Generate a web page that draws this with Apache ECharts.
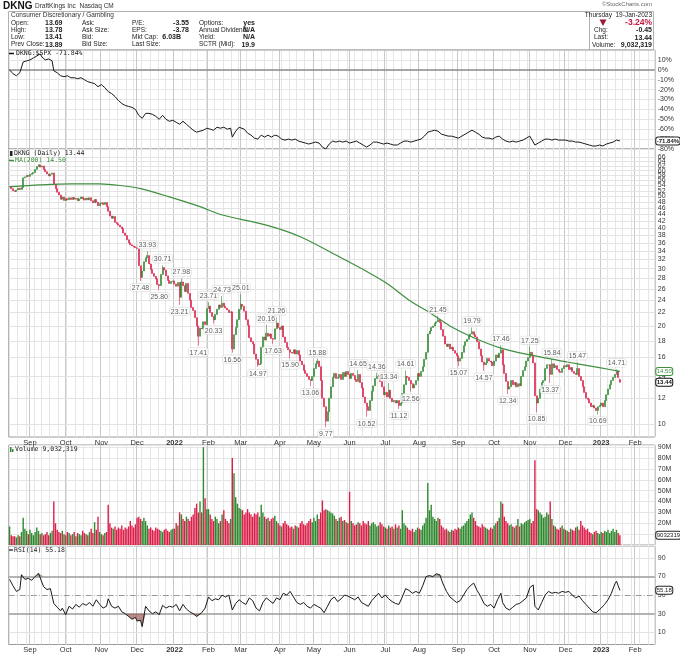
<!DOCTYPE html>
<html><head><meta charset="utf-8">
<script src="https://cdn.jsdelivr.net/npm/echarts@6/dist/echarts.min.js"></script>
<style>html,body{margin:0;padding:0;background:#fff}#c{width:680px;height:654px}</style>
</head><body><div id="c"></div>
<script>
// ---------- DATA ----------
const closes = [
 53.6,52.8,52.0,51.8,52.3,53.0,52.5,53.2,57.0,57.4,58.0,57.6,
 58.4,58.8,59.2,60.5,61.8,62.5,61.5,62.0,60.5,59.5,58.6,57.8,58.5,59.0,54.5,52.8,51.5,50.5,49.0,49.8,48.6,
 49.2,48.8,49.5,48.9,49.6,49.0,49.3,48.5,49.1,49.8,49.2,48.7,49.4,48.8,49.5,48.5,47.8,48.9,48.0,46.8,47.5,
 47.8,47.2,47.9,46.5,45.0,43.5,42.8,43.4,41.6,41.2,40.8,40.3,39.8,38.6,37.9,36.8,36.0,35.5,35.2,35.0,34.8,
 34.6,30.6,28.2,29.5,31.5,32.4,32.9,31.0,29.8,29.0,28.4,27.9,26.8,26.6,28.8,30.2,29.7,28.5,27.6,27.0,27.4,27.5,
 26.9,26.5,27.2,24.5,27.3,26.6,25.5,27.0,25.2,24.0,22.8,22.3,21.2,20.0,18.6,19.7,19.6,20.6,20.2,22.6,
 23.0,22.0,21.4,20.9,21.7,22.5,23.2,22.8,23.5,23.0,22.7,22.4,22.0,22.1,17.0,18.8,19.8,20.9,22.5,
 23.3,23.0,22.2,20.9,20.1,18.4,17.9,17.6,16.4,15.8,15.2,15.3,17.2,18.5,18.1,19.0,18.6,18.9,18.3,18.2,19.6,20.4,19.8,
 19.5,20.0,18.5,17.8,17.2,16.9,16.6,16.5,16.9,16.4,16.8,16.3,15.6,15.2,14.6,14.3,14.0,13.7,13.6,14.0,
 14.8,15.3,15.6,15.0,13.6,12.0,11.3,10.2,10.9,12.0,13.0,13.9,14.3,13.8,13.9,14.2,13.7,14.4,14.0,14.5,14.2,
 13.8,14.3,14.1,13.7,13.5,14.2,13.4,12.9,12.1,11.6,11.3,11.0,11.8,12.6,13.1,13.8,14.0,14.1,13.5,13.0,12.3,
 12.5,12.1,12.7,12.0,11.7,11.8,11.6,11.8,11.4,11.6,12.4,13.2,14.0,13.9,13.6,13.3,12.9,13.2,13.6,14.3,
 14.0,14.5,15.0,15.8,16.6,18.9,19.3,19.8,20.0,20.4,20.6,20.9,20.5,19.5,18.6,17.6,17.3,17.6,17.0,17.2,16.8,16.5,16.2,
 15.6,15.9,16.6,17.4,17.9,18.2,18.6,18.9,19.2,18.8,18.5,17.9,17.0,16.2,15.5,15.2,15.4,15.9,15.6,15.5,15.1,
 15.6,16.3,16.0,16.5,16.9,15.2,14.3,13.5,12.8,13.0,13.6,13.2,13.4,13.0,13.3,13.1,14.0,14.6,15.0,15.6,16.0,
 16.6,16.2,15.4,12.2,11.6,12.0,12.8,13.4,13.6,14.8,15.2,15.2,14.2,15.3,14.9,15.1,14.7,14.5,14.4,14.8,15.1,
 15.0,15.2,14.7,14.9,14.5,14.3,14.2,14.8,14.0,13.6,13.0,12.5,12.0,11.9,11.6,11.3,11.4,11.2,11.0,11.3,11.4,
 11.6,11.3,11.8,12.3,12.8,13.2,13.6,13.9,14.2,14.5,13.89,13.44
];
const lastOHLC = [13.69, 13.78, 13.41, 13.44];
const volumesM = [
 17,9,8,8,7,9,8,12,25,15,13,10,
 14,11,9,12,16,13,10,11,9,10,12,9,11,13,40,20,14,12,11,13,10,
 9,12,11,9,10,12,8,11,10,9,13,11,10,9,12,15,11,21,14,26,12,
 10,9,11,12,37,20,16,15,17,14,16,15,18,14,16,15,17,22,18,16,19,
 25,26,24,22,25,22,18,15,16,14,13,16,15,14,13,12,14,15,13,12,14,15,
 15,20,18,30,28,24,22,26,24,22,26,28,34,38,30,40,30,90,43,33,
 33,28,24,22,26,24,20,22,28,32,24,22,20,24,80,66,44,38,34,
 33,32,28,30,33,30,28,26,29,28,30,26,37,30,26,24,25,22,24,25,27,22,20,
 18,17,20,22,19,18,16,17,15,18,17,16,20,22,19,18,20,22,24,21,
 25,22,28,24,30,41,32,33,32,31,30,29,27,24,22,25,26,22,23,21,20,
 49,22,20,18,19,21,20,18,22,20,19,22,18,20,21,19,17,18,21,19,17,
 16,15,18,16,17,15,19,16,18,15,32,20,18,16,14,13,15,12,14,16,
 15,14,18,20,25,57,32,37,26,24,22,25,24,18,16,14,15,13,12,14,13,15,14,
 16,15,17,18,20,22,24,28,30,25,22,18,17,16,19,17,16,15,14,16,15,
 18,20,22,25,40,38,26,22,20,18,19,17,16,18,24,17,20,19,21,22,23,
 24,20,22,78,33,32,30,28,25,26,30,28,40,24,18,17,15,14,16,18,15,
 14,13,12,15,14,13,16,17,14,22,18,16,14,15,12,11,10,12,13,11,10,
 12,11,13,12,14,11,13,15,12,14,11,9.032319
];
// labelled highs / lows: [trading-day index, price, 'H' | 'L']
const extremes = [
 [77,27.48,'L'],[81,33.93,'H'],[88,25.80,'L'],[90,30.71,'H'],[100,23.21,'L'],[101,27.98,'H'],
 [111,17.41,'L'],[117,23.71,'H'],[120,20.33,'L'],[125,24.73,'H'],[131,16.56,'L'],[136,25.01,'H'],
 [146,14.97,'L'],[151,20.16,'H'],[155,17.63,'L'],[157,21.26,'H'],[165,15.90,'L'],[177,13.06,'L'],
 [181,15.88,'H'],[186,9.77,'L'],[205,14.65,'H'],[210,10.52,'L'],[216,14.36,'H'],[223,13.34,'H'],
 [229,11.12,'L'],[233,14.61,'H'],[236,12.56,'L'],[252,21.45,'H'],[264,15.07,'L'],[272,19.79,'H'],
 [279,14.57,'L'],[289,17.46,'H'],[293,12.34,'L'],[306,17.25,'H'],[310,10.85,'L'],[318,13.37,'L'],
 [319,15.84,'H'],[334,15.47,'H'],[346,10.69,'L'],[357,14.71,'H']
];
const ma200Points = [
 [0,53.5],[18,54.2],[36,54.6],[53,54.6],[65,54.0],[77,52.8],[93,50.0],[112,46.5],[124,44.0],
 [151,40.8],[171,37.6],[194,32.6],[208,29.8],[222,27.0],[236,23.8],[247,22.0],[259,20.0],
 [273,18.4],[289,17.1],[306,16.3],[328,15.5],[347,14.9],[359,14.5]
];
const ratioPoints = [
 [0,0],[2,-4],[4,-6],[6,-3],[8,8],[10,9],[12,10],[14,12],[16,14],[18,16],[19,13],[21,10],[23,11],[25,9],
 [26,-1],[28,-3],[30,-6],[32,-7],[34,-6],[36,-8],[38,-8],[40,-9],[42,-8],[44,-10],[46,-12],[48,-13],
 [50,-14],[52,-17],[54,-15],[56,-18],[58,-22],[60,-24],[62,-27],[64,-31],[66,-34],[68,-36],[70,-37],
 [72,-38],[74,-40],[76,-46],[78,-49],[80,-44],[82,-44],[84,-45],[86,-47],[88,-50],[90,-46],[92,-50],
 [94,-52],[96,-51],[98,-53],[100,-55],[102,-52],[104,-55],[106,-58],[108,-61],[110,-63],[112,-62],
 [114,-61],[116,-59],[118,-60],[120,-61],[122,-58],[124,-59],[126,-58],[128,-60],[130,-59],[131,-68],
 [133,-62],[135,-58],[136,-56],[138,-60],[140,-64],[142,-66],[144,-69],[146,-70],[148,-66],[150,-68],
 [152,-66],[154,-68],[156,-66],[158,-67],[160,-70],[162,-71],[164,-70],[166,-71],[168,-70],[170,-72],
 [172,-73],[174,-74],[176,-75],[178,-74],[180,-73],[182,-74],[184,-78],[186,-80],[188,-75],[190,-72],
 [192,-73],[194,-72],[196,-73],[198,-72],[200,-74],[202,-73],[204,-72],[206,-74],[208,-76],[210,-78],
 [212,-76],[214,-73],[216,-73],[218,-74],[220,-75],[222,-74],[224,-75],[226,-76],[228,-76],[230,-74],
 [232,-72],[234,-72],[236,-73],[238,-72],[240,-71],[242,-70],[244,-67],[246,-63],[248,-62],[250,-61],
 [252,-62],[254,-65],[256,-66],[258,-67],[260,-67],[262,-68],[264,-69],[266,-67],[268,-65],[270,-63],
 [272,-61],[274,-63],[276,-65],[278,-68],[280,-69],[282,-69],[284,-70],[286,-68],[288,-67],[290,-70],
 [292,-72],[294,-73],[296,-72],[298,-73],[300,-72],[302,-71],[304,-69],[306,-67],[307,-66],[309,-76],
 [311,-74],[313,-72],[315,-70],[317,-70],[319,-71],[321,-70],[323,-71],[325,-71],[327,-71],[329,-72],
 [331,-72],[333,-73],[335,-73],[337,-74],[339,-75],[341,-76],[343,-77],[345,-77],[347,-76],[349,-77],
 [351,-75],[353,-74],[355,-73],[357,-71],[358,-71.5],[359,-71.84]
];
const rsiPoints = [
 [0,67],[2,60],[4,54],[6,56],[7,72],[9,67],[11,68],[13,66],[15,70],[17,73.5],[18,73],[20,59],[22,56],
 [24,57],[26,41],[28,37],[30,33],[31,36],[33,29],[35,38],[37,35],[39,40],[41,37],[43,41],[45,39],[47,42],
 [49,38],[51,45],[53,40],[55,36],[57,38],[58,46],[60,38],[62,36],[64,38],[66,32],[68,30],[70,27],[72,24],
 [74,26],[75,22],[76,20],[77,23],[78,16],[80,38],[82,33],[84,30],[86,32],[88,29],[90,39],[92,36],[94,38],
 [96,37],[98,40],[100,33],[102,40],[104,35],[106,32],[108,30],[110,27],[111,28],[113,31],[115,36],
 [117,48],[119,44],[121,46],[123,45],[125,50],[127,48],[129,50],[130,49],[131,34],[133,41],[135,45],
 [137,42],[139,40],[141,47],[143,44],[145,36],[147,33],[149,42],[151,47],[153,44],[155,41],[157,47],
 [159,45],[161,52],[163,50],[165,54],[167,48],[169,42],[171,40],[173,42],[175,38],[177,36],[179,40],
 [181,38],[183,36],[185,31],[187,38],[189,45],[191,48],[193,43],[195,46],[197,50],[199,49],[201,47],
 [203,45],[205,48],[207,42],[209,40],[211,38],[213,44],[215,48],[217,52],[219,47],[221,50],[223,46],
 [225,43],[227,41],[229,40],[231,48],[233,57],[235,55],[237,52],[239,54],[241,52],[243,60],[245,70],
 [247,71],[249,70],[251,73],[253,72],[255,62],[257,54],[259,48],[261,45],[263,42],[265,44],[267,50],
 [269,56],[271,60],[273,63],[275,55],[277,49],[279,41],[281,38],[283,40],[285,36],[287,45],[289,52],
 [290,42],[292,36],[294,34],[296,37],[298,40],[300,41],[302,44],[304,47],[306,58],[308,61],[309,38],
 [311,34],[313,42],[315,50],[317,54],[319,52],[321,53],[323,52],[325,54],[327,53],[329,54],[331,50],
 [333,47],[335,49],[337,44],[339,40],[341,36],[343,32],[345,31],[346,30],[348,36],[350,40],[352,45],
 [354,52],[356,62],[357,65],[358,60],[359,55.18]
];
const priceTicks = [10,12,14,16,18,20,22,24,26,28,30,32,34,36,38,40,42,44,46,48,50,52,54,56,58,60,62,64,66];
const rsiTicks = [10,30,50,70,90];
const holidays = ['2021-09-06','2021-11-25','2021-12-24','2022-01-17','2022-02-21','2022-04-15','2022-05-30',
 '2022-06-20','2022-07-04','2022-09-05','2022-11-24','2022-12-26','2023-01-02','2023-01-16'];
const monthNames = ['Jan','Feb','Mar','Apr','May','Jun','Jul','Aug','Sep','Oct','Nov','Dec'];

// ---------- BUILD ----------
function buildDates(n){
  const out=[]; const d=new Date(Date.UTC(2021,7,16));
  while(out.length<n){ const w=d.getUTCDay(); const s=d.toISOString().slice(0,10);
    if(w!==0&&w!==6&&holidays.indexOf(s)<0) out.push(s); d.setUTCDate(d.getUTCDate()+1); }
  return out;
}
const dates = buildDates(380);
const monthStart = dates.map((d,i)=> i>0 && d.slice(0,7)!==dates[i-1].slice(0,7));
const weekStart = dates.map((d,i)=> i>0 && new Date(d+'T00:00:00Z').getUTCDay() < new Date(dates[i-1]+'T00:00:00Z').getUTCDay());
const GREEN='#2f8a2f', RED='#dc1f4a';
const FONT="'Liberation Sans', Arial, sans-serif";
const MONO="'DejaVu Sans Mono', monospace";

const hi={}, lo={};
extremes.forEach(e=>{ if(e[2]==='H') hi[e[0]]=e[1]; else lo[e[0]]=e[1]; });
const candleData = closes.map((c,i)=>{
  if(i===closes.length-1){ return [lastOHLC[0], lastOHLC[3], lastOHLC[2], lastOHLC[1]]; }
  const o = i===0 ? c : closes[i-1];
  const h = Math.max(o,c, hi[i]!==undefined?hi[i]:0);
  const l = Math.min(o,c, lo[i]!==undefined?lo[i]:1e9);
  return [o,c,l,h];
});
const volData = volumesM.map((v,i)=>({value:v, itemStyle:{color: (i===0||closes[i]>=closes[i-1])?GREEN:RED}}));

function monthLabel(v){ const m=+v.slice(5,7)-1; return m===0 ? '{b|'+v.slice(0,4)+'}' : monthNames[m]; }

const grids=[
 {top:50,height:99},{top:149,height:288},{top:445,height:100},{top:546,height:99}
].map(g=>Object.assign({left:8.75,width:646,show:true,borderColor:'#9a9a9a',borderWidth:1,backgroundColor:'#fff'},g));

const xAxes=[];
for(let g=0;g<4;g++){
  xAxes.push({type:'category',gridIndex:g,data:dates,boundaryGap:true,
    axisLine:{show:false},axisTick:{show:false},
    axisLabel:{show:(g===1||g===3),interval:(i)=>monthStart[i],formatter:monthLabel,fontSize:7.5,color:'#333',
      fontFamily:FONT,margin:1.5,rich:{b:{fontWeight:'bold',fontSize:7.5,fontFamily:FONT,color:'#333'}}},
    splitLine:{show:true,interval:(i)=>weekStart[i],lineStyle:{color:'#e6e6e6',width:1}}});
}
for(let g=0;g<4;g++){
  xAxes.push({type:'category',gridIndex:g,data:dates,boundaryGap:true,
    axisLine:{show:false},axisTick:{show:false},axisLabel:{show:false},
    splitLine:{show:true,interval:(i)=>monthStart[i],lineStyle:{color:'#c8c8c8',width:1}}});
}
const axLbl={fontSize:7,color:'#333',fontFamily:FONT,margin:3};
const yAxes=[
 {type:'value',gridIndex:0,min:-80,max:20,interval:10,position:'right',
  axisLabel:Object.assign({formatter:v=>v===20?'':v+'%'},axLbl),axisLine:{show:false},axisTick:{show:false},
  splitLine:{lineStyle:{color:'#e6e6e6'}}},
 {type:'log',logBase:10,gridIndex:1,min:9.12,max:69.9,position:'right',axisLabel:{show:false},
  axisLine:{show:false},axisTick:{show:false},splitLine:{show:false}},
 {type:'value',gridIndex:2,min:0,max:92,interval:10,position:'right',
  axisLabel:Object.assign({formatter:v=>(v===0||v===10)?'':v+'M'},axLbl),axisLine:{show:false},axisTick:{show:false},
  splitLine:{lineStyle:{color:'#e6e6e6'}}},
 {type:'value',gridIndex:3,min:-3.2,max:102.9,position:'right',axisLabel:{show:false},
  axisLine:{show:false},axisTick:{show:false},splitLine:{show:false}}
];

function boxLabel(text,color,bold){
  return {show:true,position:'end',distance:1.5,formatter:text,fontSize:6,fontFamily:FONT,fontWeight:bold?'bold':'normal',
    color:color,backgroundColor:'#fff',borderColor:color,borderWidth:1,borderRadius:2,padding:[1,0.5,0,0.5]};
}
const hidden={color:'rgba(0,0,0,0)',width:0.1,type:'solid'};

const series=[
 {type:'line',xAxisIndex:0,yAxisIndex:0,data:ratioPoints,showSymbol:false,lineStyle:{color:'#1a1a1a',width:1},z:5,
  markLine:{silent:true,symbol:['none','none'],animation:false,data:[
    {yAxis:0,lineStyle:{color:'#8c8c8c',width:1.5,type:'solid'},label:{show:false}},
    {yAxis:-71.84,lineStyle:hidden,label:boxLabel('-71.84%','#222',true)}
  ]}},
 {type:'candlestick',xAxisIndex:1,yAxisIndex:1,data:candleData,barWidth:1.5,z:5,
  itemStyle:{color:GREEN,color0:RED,borderColor:GREEN,borderColor0:RED,borderWidth:0.6},
  markLine:{silent:true,symbol:['none','none'],animation:false,z:1,
    lineStyle:{color:'#e3e3e3',width:1,type:'solid'},
    data:priceTicks.map(v=>({yAxis:v,label:{show:true,position:'end',distance:3,formatter:String(v),fontSize:7,color:'#333',fontFamily:FONT}}))
     .concat([{yAxis:14.50,lineStyle:hidden,label:boxLabel('14.50','#3f8f3f',false)},
              {yAxis:13.44,lineStyle:hidden,label:boxLabel('13.44','#111',true)}])}},
 {type:'line',xAxisIndex:1,yAxisIndex:1,data:ma200Points,showSymbol:false,smooth:0.3,lineStyle:{color:'#3f8f3f',width:1.2},z:6},
 {type:'scatter',xAxisIndex:1,yAxisIndex:1,symbolSize:1,itemStyle:{color:'rgba(0,0,0,0)'},z:8,
  data:extremes.map(e=>({value:[e[0],e[1]],label:{show:true,position:e[2]==='H'?'top':'bottom',distance:2,
    formatter:e[1].toFixed(2),fontSize:7,color:'#333',fontFamily:FONT,backgroundColor:'rgba(255,255,255,0.9)',
    borderColor:'#d0d0d0',borderWidth:0.5,borderRadius:2,padding:[1,1,0,1]}}))},
 {type:'bar',xAxisIndex:2,yAxisIndex:2,data:volData,barWidth:1.4,z:5,
  markLine:{silent:true,symbol:['none','none'],animation:false,data:[
    {yAxis:9.032319,lineStyle:hidden,label:boxLabel('9032319','#222',false)}]}},
 {type:'line',xAxisIndex:3,yAxisIndex:3,data:rsiPoints.map(p=>[p[0],Math.min(p[1],30)]),showSymbol:false,
  lineStyle:{width:0},areaStyle:{origin:30,color:'#9e5b55'},z:3},
 {type:'line',xAxisIndex:3,yAxisIndex:3,data:rsiPoints.map(p=>[p[0],Math.max(p[1],70)]),showSymbol:false,
  lineStyle:{width:0},areaStyle:{origin:70,color:'#6f8a64'},z:3},
 {type:'line',xAxisIndex:3,yAxisIndex:3,data:rsiPoints,showSymbol:false,lineStyle:{color:'#1a1a1a',width:1},z:5,
  markLine:{silent:true,symbol:['none','none'],animation:false,z:1,data:[
    {yAxis:90,lineStyle:{color:'#e3e3e3',width:1,type:'solid'}},
    {yAxis:10,lineStyle:{color:'#e3e3e3',width:1,type:'solid'}},
    {yAxis:70,lineStyle:{color:'#9a9a9a',width:1.5,type:'solid'}},
    {yAxis:30,lineStyle:{color:'#9a9a9a',width:1.5,type:'solid'}},
    {yAxis:50,lineStyle:{color:'#9a9a9a',width:1,type:[6,2,1,2]}},
    {yAxis:55.18,lineStyle:hidden,label:boxLabel('55.18','#222',false)}
  ].map(d=>{ if(!d.label){ d.label={show:true,position:'end',distance:3,formatter:String(d.yAxis),fontSize:7,color:'#333',fontFamily:FONT}; } return d; })}}
];

function T(x,y,text,o){ o=o||{};
  return {type:'text',x:x,y:y,silent:true,z:50,style:{text:text,
    font:(o.bold?'bold ':'')+(o.size||7)+'px '+(o.family||FONT),fill:o.color||'#222',
    textAlign:o.align||'left',align:o.align||'left',textVerticalAlign:'middle',verticalAlign:'middle'}};
}
const graphics=[
 T(3,6,'DKNG',{bold:true,size:10,color:'#111'}),
 T(35,6.5,'DraftKings Inc  Nasdaq CM',{size:6.5,color:'#333'}),
 T(652,4,'\u00a9StockCharts.com',{size:6,color:'#666',align:'right'}),
 {type:'rect',shape:{x:8.5,y:11.5,width:645,height:38.5},style:{fill:'none',stroke:'#b0b0b0',lineWidth:1},silent:true,z:40},
 {type:'line',shape:{x1:589.5,y1:11.5,x2:589.5,y2:50},style:{stroke:'#b0b0b0',lineWidth:1},silent:true,z:40},
 T(11,15.5,'Consumer Discretionary / Gambling',{size:6.5,color:'#333'}),
 T(11,22.8,'Open:',{size:6.5}),T(11,30,'High:',{size:6.5}),T(11,37.3,'Low:',{size:6.5}),T(11,44.6,'Prev Close:',{size:6.5}),
 T(45,22.8,'13.69',{size:7,bold:true}),T(45,30,'13.78',{size:7,bold:true}),T(45,37.3,'13.41',{size:7,bold:true}),T(45,44.6,'13.89',{size:7,bold:true}),
 T(82,22.8,'Ask:',{size:6.5}),T(82,30,'Ask Size:',{size:6.5}),T(82,37.3,'Bid:',{size:6.5}),T(82,44.6,'Bid Size:',{size:6.5}),
 T(132,22.8,'P/E:',{size:6.5}),T(132,30,'EPS:',{size:6.5}),T(132,37.3,'Mkt Cap:',{size:6.5}),T(132,44.6,'Last Size:',{size:6.5}),
 T(189,22.8,'-3.55',{size:7,bold:true,align:'right'}),T(189,30,'-3.78',{size:7,bold:true,align:'right'}),T(181,37.3,'6.03B',{size:7,bold:true,align:'right'}),
 T(199,22.8,'Options:',{size:6.5}),T(199,30,'Annual Dividend:',{size:6.5}),T(199,37.3,'Yield:',{size:6.5}),T(199,44.6,'SCTR (Mid):',{size:6.5}),
 T(255,22.8,'yes',{size:7,bold:true,align:'right'}),T(255,30,'N/A',{size:7,bold:true,align:'right'}),T(255,37.3,'N/A',{size:7,bold:true,align:'right'}),T(255,44.6,'19.9',{size:7,bold:true,align:'right'}),
 T(652,14.8,'Thursday  19-Jan-2023',{size:6.5,align:'right'}),
 {type:'polygon',shape:{points:[[599.5,19.5],[606.5,19.5],[603,26]]},style:{fill:'#9c1a33'},silent:true,z:50},
 T(652,22.8,'-3.24%',{size:8.5,bold:true,color:'#c4173f',align:'right'}),
 T(594,30.2,'Chg:',{size:6.5}),T(652,30.2,'-0.45',{size:7,bold:true,align:'right'}),
 T(594,37.6,'Last:',{size:6.5}),T(652,37.6,'13.44',{size:7,bold:true,align:'right'}),
 T(592,45,'Volume:',{size:6.5}),T(652,45,'9,032,319',{size:7,bold:true,align:'right'}),
 // panel legends
 {type:'line',shape:{x1:9,y1:53.5,x2:14,y2:53.5},style:{stroke:'#111',lineWidth:1.5},silent:true,z:50},
 T(16,53.8,'DKNG:$SPX -71.84%',{size:6.5,family:MONO,color:'#222'}),
 {type:'rect',shape:{x:10,y:151,width:2.5,height:5},style:{fill:'#222'},silent:true,z:50},
 T(14,153.8,'DKNG (Daily) 13.44',{size:6.5,family:MONO,color:'#222'}),
 {type:'line',shape:{x1:9,y1:160.5,x2:14,y2:160.5},style:{stroke:'#3f8f3f',lineWidth:1.5},silent:true,z:50},
 T(15,160.8,'MA(200) 14.50',{size:6.5,family:MONO,color:'#3f8f3f'}),
 {type:'rect',shape:{x:10,y:447,width:1.5,height:5},style:{fill:GREEN},silent:true,z:50},
 {type:'rect',shape:{x:12,y:449,width:1.5,height:3},style:{fill:GREEN},silent:true,z:50},
 T(15,449.8,'Volume 9,032,319',{size:6.5,family:MONO,color:'#222'}),
 {type:'line',shape:{x1:9,y1:550,x2:13,y2:550},style:{stroke:'#111',lineWidth:1.2},silent:true,z:50},
 T(14,550.3,'RSI(14) 55.18',{size:6.5,family:MONO,color:'#222'})
];

const chart=echarts.init(document.getElementById('c'),null,{renderer:'canvas'});
chart.setOption({animation:false,backgroundColor:'#fff',grid:grids,xAxis:xAxes,yAxis:yAxes,series:series,graphic:graphics});
</script></body></html>
